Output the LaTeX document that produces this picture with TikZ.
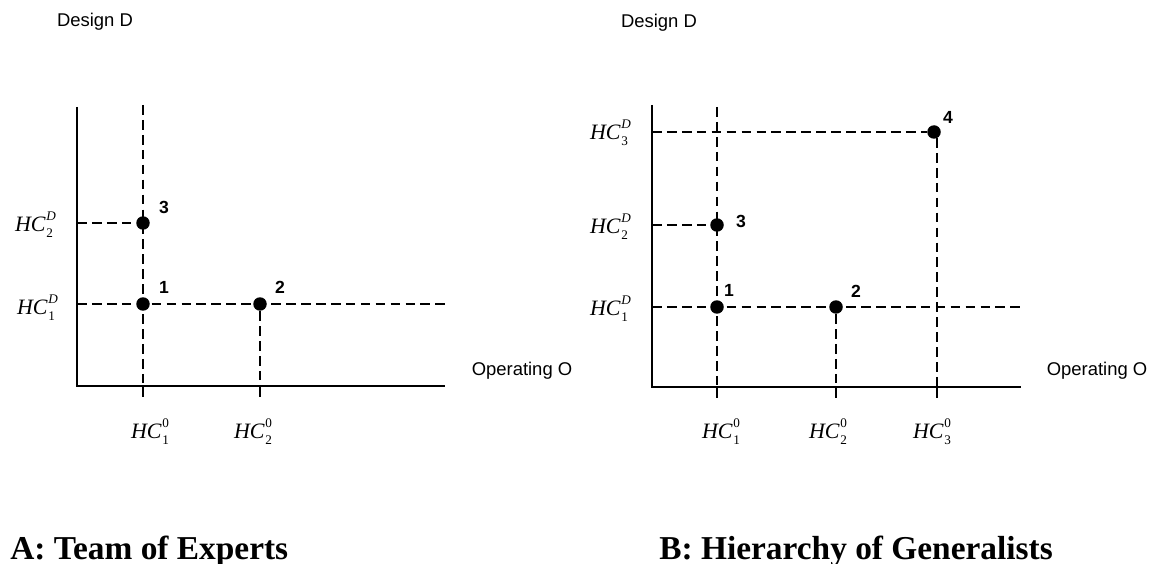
\documentclass[tikz,border=0pt]{standalone}
\usepackage{fontspec}
\setmainfont{Liberation Serif}
\setsansfont{Liberation Sans}
\usetikzlibrary{positioning}
\tikzset{
  axisline/.style={line width=1.7pt},
  tickline/.style={line width=1.3pt},
  guide/.style={line width=1.3pt,dash pattern=on 5.5pt off 3pt},
  dot/.style={circle,fill=black,inner sep=0pt,minimum size=0.27cm},
  ptlab/.style={font=\sffamily\bfseries\fontsize{10}{12}\selectfont,inner sep=0pt},
  axlab/.style={font=\sffamily\fontsize{10.5}{12}\selectfont,inner sep=0pt},
  hclab/.style={font=\fontsize{12.5}{14}\selectfont,inner sep=0pt},
  paneltitle/.style={font=\bfseries\fontsize{19}{22}\selectfont,inner sep=0pt,anchor=base west}
}
\newcommand{\hcl}[2]{\textit{HC}\kern0.02em\makebox[0pt][l]{\raisebox{0.5em}{\fontsize{7.5}{8}\selectfont#2}}\raisebox{-0.28em}{\fontsize{7.5}{8}\selectfont#1}}

\begin{document}
\begin{tikzpicture}[x=0.02cm,y=-0.02cm]
  \useasboundingbox (0,0) rectangle (1157,564);
  % panel A: team of experts
  \coordinate (Ao) at (77,386);
  \draw[axisline] (77,107) -- (Ao) -- (445,386);
  \foreach \x in {143,260} \draw[tickline] (\x,386) -- (\x,397);
  \node[dot] (a1) at (143,304) {};
  \node[dot] (a2) at (260,304) {};
  \node[dot] (a3) at (143,223) {};
  \coordinate (atop) at (143,105);
  \coordinate (ax1) at (143,397);
  \coordinate (ax2) at (260,397);
  \coordinate (ay1) at (77,304);
  \coordinate (ay2) at (77,223);
  \coordinate (aend) at (445,304);
  \draw[guide] (atop) -- (ax1);
  \draw[guide] (ay2) -- (a3);
  \draw[guide] (ay1) -- (aend);
  \draw[guide] (a2) -- (ax2);
  \node[ptlab] (na1) at (164,287) {1};
  \node[ptlab] (na2) at (280,287) {2};
  \node[ptlab] (na3) at (164,207) {3};
  \node[hclab] (ad1) at (36,308) {\hcl{1}{\textit{D}}};
  \node[hclab] (ad2) at (34,225) {\hcl{2}{\textit{D}}};
  \node[hclab] (ao1) at (150,432) {\hcl{1}{0}};
  \node[hclab] (ao2) at (253,432) {\hcl{2}{0}};
  \node[axlab] (adesign) at (95,22) {Design D};
  \node[axlab] (aoper) at (522,371) {Operating O};
  \node[paneltitle] (atitle) at (10,559) {A: Team of Experts};
  % panel B: hierarchy of generalists
  \coordinate (Bo) at (652,387);
  \draw[axisline] (652,105) -- (Bo) -- (1021,387);
  \foreach \x in {717,836,937} \draw[tickline] (\x,387) -- (\x,398);
  \node[dot] (b1) at (717,307) {};
  \node[dot] (b2) at (836,307) {};
  \node[dot] (b3) at (717,225) {};
  \node[dot] (b4) at (934,132) {};
  \coordinate (btop) at (717,107);
  \coordinate (bx1) at (717,398);
  \coordinate (bx2) at (836,398);
  \coordinate (bx3) at (937,398);
  \coordinate (by1) at (652,307);
  \coordinate (by2) at (652,225);
  \coordinate (by3) at (652,132);
  \coordinate (bend) at (1021,307);
  \coordinate (b4s) at (937,138);
  \draw[guide] (btop) -- (bx1);
  \draw[guide] (by3) -- (b4);
  \draw[guide] (b4s) -- (bx3);
  \draw[guide] (by2) -- (b3);
  \draw[guide] (by1) -- (bend);
  \draw[guide] (b2) -- (bx2);
  \node[ptlab] (nb1) at (729,290) {1};
  \node[ptlab] (nb2) at (856,291) {2};
  \node[ptlab] (nb3) at (741,221) {3};
  \node[ptlab] (nb4) at (948,117) {4};
  \node[hclab] (bd1) at (609,309) {\hcl{1}{\textit{D}}};
  \node[hclab] (bd2) at (609,227) {\hcl{2}{\textit{D}}};
  \node[hclab] (bd3) at (609,133) {\hcl{3}{\textit{D}}};
  \node[hclab] (bo1) at (721,432) {\hcl{1}{0}};
  \node[hclab] (bo2) at (828,432) {\hcl{2}{0}};
  \node[hclab] (bo3) at (932,432) {\hcl{3}{0}};
  \node[axlab] (bdesign) at (659,23) {Design D};
  \node[axlab] (boper) at (1097,371) {Operating O};
  \node[paneltitle] (btitle) at (659,559) {B: Hierarchy of Generalists};
\end{tikzpicture}
\end{document}
